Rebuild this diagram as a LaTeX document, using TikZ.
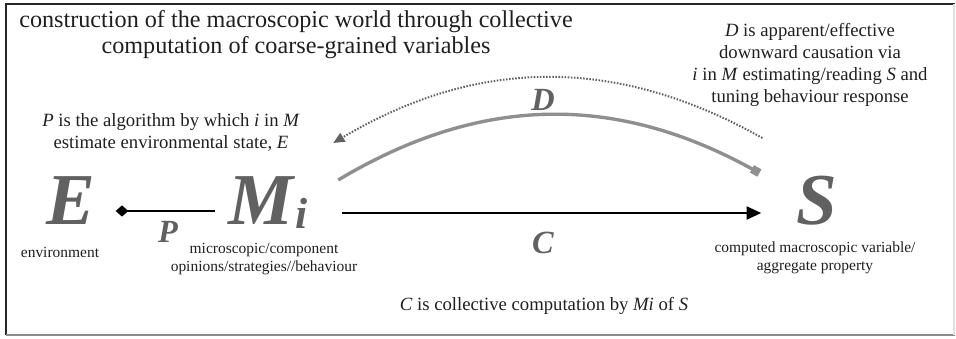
\documentclass[tikz,border=0pt]{standalone}
\usepackage{fontspec}
\setmainfont{Liberation Serif}
\usetikzlibrary{arrows.meta,calc}

\definecolor{letgray}{gray}{0.38}
\definecolor{arcgray}{gray}{0.56}

\begin{document}
\begin{tikzpicture}[x=0.025cm, y=0.025cm,
    big/.style={anchor=base, inner sep=0pt, text=letgray, font=\fontsize{52}{52}\selectfont\bfseries\itshape},
    mid/.style={anchor=base, inner sep=0pt, text=letgray, font=\fontsize{23}{23}\selectfont\bfseries\itshape},
    head/.style={align=center, inner sep=0pt, text=black!88, font=\fontsize{17.2}{18.6}\selectfont},
    note/.style={align=center, inner sep=0pt, text=black!88, font=\fontsize{13.3}{15.6}\selectfont},
    small/.style={align=center, inner sep=0pt, text=black!88, font=\fontsize{11}{12.8}\selectfont},
    carr/.style={line width=2.1pt, -{Triangle[length=10.5pt,width=9pt]}},
    parr/.style={line width=1.6pt, {Diamond[length=9pt,width=8pt]}-},
    darr/.style={arcgray, line width=2.4pt, -{Square[length=6pt,width=6pt]}},
    dots/.style={letgray, line width=1.4pt, dash pattern=on 1.1pt off 1.1pt, -{Triangle[length=8pt,width=7pt]}}
]
\useasboundingbox (0,0) rectangle (956,338);
\draw[black!85, line width=1.4pt] (6,3) -- (6,334) -- (955,334);
\draw[black!45, line width=1.1pt] (6,3) -- (955,3);
\draw[black!12, line width=0.8pt] (954,3) -- (954,334);

\node[head] (title) at (296,303) {construction of the macroscopic world through collective\\computation of coarse-grained variables};
\node[note] (pnote) at (171,206) {\textit{P} is the algorithm by which \textit{i} in \textit{M}\\estimate environmental state, \textit{E}};
\node[note] (dnote) at (810,273) {\textit{D} is apparent/effective\\downward causation via\\\textit{i} in \textit{M} estimating/reading \textit{S} and\\tuning behaviour response};

\node[big] (E) at (71,114) {E};
\node[big] (M) at (268,114) {M\kern2pt\raisebox{-3.5pt}{\fontsize{31}{31}\selectfont i}};
\node[big] (S) at (817,114) {S};
\node[mid] (P) at (168,96) {P};
\node[mid] (C) at (543,85) {C};
\node[mid] (D) at (543,228) {D};

\node[small] (envl) at (60,86) {environment};
\node[small] (micl) at (264,79) {microscopic/component\\opinions/strategies//behaviour};
\node[small] (macl) at (815,80) {computed macroscopic variable/\\aggregate property};
\node[note] (cnote) at (544,32) {\textit{C} is collective computation by \textit{Mi} of \textit{S}};

\draw[parr] ($(E.base east)+(20,13)$) -- ($(M.base west)+(-13,13)$);
\draw[carr] ($(M.base east)+(34,11)$) -- ($(S.base west)+(-35,11)$);
\draw[darr] ($(M.base east)+(30,44)$) to[bend left=30] ($(S.base west)+(-37,51)$);
\draw[dots] ($(S.base west)+(-34,86)$) to[bend right=30] ($(M.base east)+(25,81)$);
\end{tikzpicture}
\end{document}
